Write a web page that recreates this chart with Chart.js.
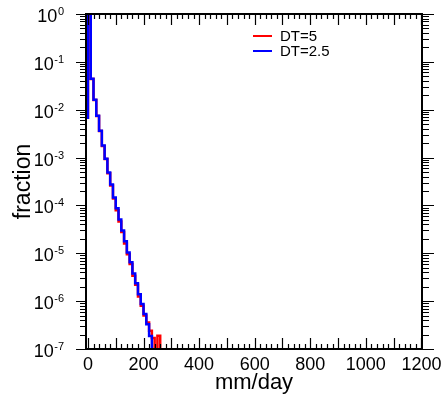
<!DOCTYPE html>
<html>
<head>
<meta charset="utf-8">
<script src="https://cdn.jsdelivr.net/npm/chart.js@4.4.0/dist/chart.umd.min.js"></script>
<style>
  html, body { margin: 0; padding: 0; background: #fff; }
  canvas { display: block; }
</style>
</head>
<body>
<canvas id="histChart" width="443" height="403"></canvas>
<script>
// left edge of each 10 mm/day bin (last entry closes the final bin)
const binLeft = [-10, 0, 10, 20, 30, 40, 50, 60, 70, 80, 90, 100, 110, 120, 130,
                 140, 150, 160, 170, 180, 190, 200, 210, 220, 230, 240, 250, 260, 270];

// fraction per bin, DT=5
const fracDT5 = [6.8e-3, 1.3, 4.4e-2, 1.6e-2, 7.4e-3, 3.6e-3, 1.75e-3, 9.3e-4, 4.7e-4, 2.6e-4,
                 1.4e-4, 7.9e-5, 4.6e-5, 2.8e-5, 1.6e-5, 9.6e-6, 6.0e-6, 3.4e-6, 2.2e-6, 1.25e-6,
                 8.0e-7, 5.0e-7, 3.6e-7, 2.4e-7, 1.7e-7, 0, 1.9e-7, 0, 0];

// fraction per bin, DT=2.5
const fracDT25 = [6.8e-3, 1.3, 4.42e-2, 1.62e-2, 7.5e-3, 3.65e-3, 1.78e-3, 9.5e-4, 4.9e-4, 2.74e-4,
                  1.47e-4, 8.7e-5, 5.1e-5, 3.0e-5, 1.78e-5, 1.04e-5, 6.5e-6, 3.8e-6, 2.37e-6, 1.4e-6,
                  8.7e-7, 5.4e-7, 3.3e-7, 1.87e-7, 0, 0, 0, 0, 0];

const xTickLabels = [0, 200, 400, 600, 800, 1000, 1200];
const yDecades = [-7, -6, -5, -4, -3, -2, -1, 0];

const FONT = "'Liberation Sans', Arial, Helvetica, sans-serif";
// empty bins can't sit on a log axis, push them below the frame
const ZERO_FLOOR = 1e-9;

function toPoints(values) {
    return binLeft.map((x, i) => ({ x: x, y: values[i] > 0 ? values[i] : ZERO_FLOOR }));
}

// frame, tick marks, tick labels and the legend
const frameAndTicks = {
    id: 'frameAndTicks',
    afterDraw(chart) {
        const { ctx, chartArea: a, scales: { x, y } } = chart;
        ctx.save();
        ctx.strokeStyle = '#000';
        ctx.lineWidth = 1.2;
        ctx.beginPath();
        // x ticks point into the plot (bottom and top)
        for (let v = 0; v <= 1200; v += 20) {
            const px = Math.round(x.getPixelForValue(v)) + 0.5;
            const len = v % 100 === 0 ? 11 : 5;
            ctx.moveTo(px, a.bottom); ctx.lineTo(px, a.bottom - len);
            ctx.moveTo(px, a.top); ctx.lineTo(px, a.top + len);
        }
        // y ticks point outward (left and right)
        yDecades.forEach(e => {
            for (let k = 1; k <= 9; k++) {
                const v = k * Math.pow(10, e);
                if (v > 1.0001) break;
                const py = Math.round(y.getPixelForValue(v)) + 0.5;
                const major = k === 1;
                ctx.moveTo(a.left, py); ctx.lineTo(a.left - (major ? 10 : 6), py);
                ctx.moveTo(a.right, py); ctx.lineTo(a.right + (major ? 12 : 7), py);
            }
        });
        ctx.stroke();

        ctx.lineWidth = 2;
        ctx.strokeRect(a.left, a.top, a.right - a.left, a.bottom - a.top);

        ctx.fillStyle = '#000';
        ctx.textBaseline = 'alphabetic';

        // x labels
        ctx.textAlign = 'center';
        ctx.font = '18px ' + FONT;
        xTickLabels.forEach(v => {
            ctx.fillText(String(v), x.getPixelForValue(v), a.bottom + 21);
        });

        // y labels as 10 with raised exponent
        ctx.textAlign = 'right';
        const labelRight = a.left - 22;
        yDecades.forEach(e => {
            const py = y.getPixelForValue(Math.pow(10, e));
            const expText = String(e);
            ctx.font = '11px ' + FONT;
            const ew = ctx.measureText(expText).width;
            ctx.fillText(expText, labelRight, py + 1);
            ctx.font = '18px ' + FONT;
            ctx.fillText('10', labelRight - ew - 0.5, py + 8);
        });

        // legend
        ctx.textAlign = 'left';
        ctx.textBaseline = 'middle';
        ctx.font = '15px ' + FONT;
        chart.data.datasets.forEach((ds, i) => {
            const ly = 36 + i * 15;
            ctx.strokeStyle = ds.borderColor;
            ctx.lineWidth = 2;
            ctx.beginPath();
            ctx.moveTo(253, ly); ctx.lineTo(272, ly);
            ctx.stroke();
            ctx.fillText(ds.label, 280, ly + 1);
        });
        ctx.restore();
    }
};

const ctx = document.getElementById('histChart').getContext('2d');
new Chart(ctx, {
    type: 'line',
    data: {
        datasets: [
            {
                label: 'DT=5',
                data: toPoints(fracDT5),
                borderColor: '#ff0000',
                borderWidth: 2.5,
                pointRadius: 0,
                stepped: true,
                fill: false,
                order: 1
            },
            {
                label: 'DT=2.5',
                data: toPoints(fracDT25),
                borderColor: '#0000ff',
                borderWidth: 2.5,
                pointRadius: 0,
                stepped: true,
                fill: false,
                order: 0
            }
        ]
    },
    options: {
        responsive: false,
        animation: false,
        devicePixelRatio: 1,
        layout: { padding: { left: 0, right: 21, top: 14, bottom: 0 } },
        plugins: {
            legend: { display: false },
            tooltip: { enabled: false }
        },
        scales: {
            x: {
                type: 'linear',
                min: -7,
                max: 1202,
                grid: { display: false },
                border: { display: false },
                ticks: { display: false },
                title: {
                    display: true,
                    text: 'mm/day',
                    color: '#000',
                    font: { family: FONT, size: 22 },
                    padding: { top: 0, bottom: 7 }
                },
                afterFit: s => { s.height = 54; }
            },
            y: {
                type: 'logarithmic',
                min: 1e-7,
                max: 1,
                grid: { display: false },
                border: { display: false },
                ticks: { display: false },
                title: {
                    display: true,
                    text: 'fraction',
                    color: '#000',
                    font: { family: FONT, size: 23 },
                    padding: { top: 10, bottom: 0 }
                },
                afterFit: s => { s.width = 86; }
            }
        }
    },
    plugins: [frameAndTicks]
});
</script>
</body>
</html>
